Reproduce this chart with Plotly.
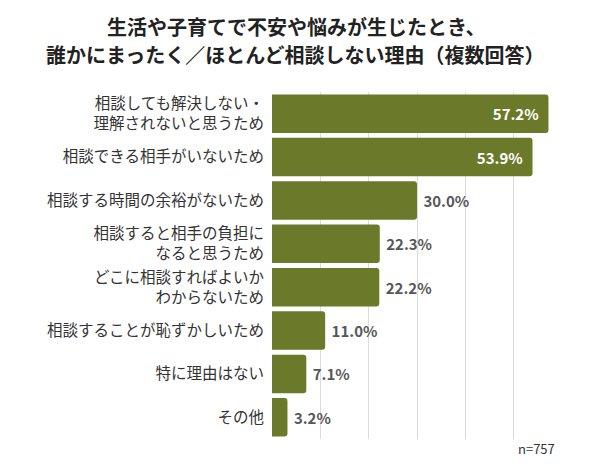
import plotly.graph_objects as go

categories = [
    "相談しても解決しない・<br>理解されないと思うため",
    "相談できる相手がいないため",
    "相談する時間の余裕がないため",
    "相談すると相手の負担に<br>なると思うため",
    "どこに相談すればよいか<br>わからないため",
    "相談することが恥ずかしいため",
    "特に理由はない",
    "その他",
]
values = [57.2, 53.9, 30.0, 22.3, 22.2, 11.0, 7.1, 3.2]
title_lines = [
    "生活や子育てで不安や悩みが生じたとき、",
    "誰かにまったく／ほとんど相談しない理由（複数回答）",
]
sample_note = "n=757"

positions = ["inside" if v > 40 else "outside" for v in values]
labels = [
    (f"{v:.1f}%\u00a0\u00a0" if p == "inside" else f"\u00a0{v:.1f}%")
    for v, p in zip(values, positions)
]

FONT = "Noto Sans CJK JP"
BAR = "#6b7a2a"

# page body has an 8px default margin, so the figure is sized to fit the window
W, H = 591, 463
ML, MR, MT, MB = 264, 37, 84, 32
PW, PH = W - ML - MR, H - MT - MB


def px_x(px):
    return (px - ML) / PW


def px_y(py):
    return (H - MB - py) / PH


fig = go.Figure(go.Bar(
    x=values,
    y=categories,
    orientation="h",
    marker=dict(color=BAR, cornerradius=3, line=dict(width=0)),
    text=labels,
    textposition=positions,
    insidetextanchor="end",
    insidetextfont=dict(family=FONT, size=15, color="white", weight="bold"),
    outsidetextfont=dict(family=FONT, size=15, color="#575757", weight="bold"),
    textangle=0,
    cliponaxis=False,
    hoverinfo="skip",
))

fig.update_layout(
    width=W,
    height=H,
    margin=dict(l=ML, r=MR, t=MT, b=MB, autoexpand=False),
    paper_bgcolor="white",
    plot_bgcolor="white",
    bargap=0.115,
    showlegend=False,
    font=dict(family=FONT, color="#333333"),
    xaxis=dict(
        range=[0, 60],
        dtick=10,
        showticklabels=False,
        showgrid=True,
        gridcolor="#dcdcdc",
        gridwidth=1,
        zeroline=False,
        showline=False,
        fixedrange=True,
    ),
    yaxis=dict(
        autorange="reversed",
        tickfont=dict(family=FONT, size=15.5, color="#333333"),
        ticklabelstandoff=7,
        showgrid=False,
        showline=False,
        zeroline=False,
        automargin=False,
    ),
    annotations=[
        dict(text=title_lines[0], x=px_x(288), y=px_y(18), xref="paper", yref="paper",
             xanchor="center", yanchor="middle", showarrow=False,
             font=dict(family=FONT, size=20, color="#222222", weight="bold")),
        dict(text=title_lines[1], x=px_x(287), y=px_y(46), xref="paper", yref="paper",
             xanchor="center", yanchor="middle", showarrow=False,
             font=dict(family=FONT, size=20, color="#222222", weight="bold")),
        dict(text=sample_note, x=px_x(549), y=px_y(440), xref="paper", yref="paper",
             xanchor="right", yanchor="middle", showarrow=False,
             font=dict(family=FONT, size=13, color="#333333")),
    ],
)

fig.write_html("out.html")
